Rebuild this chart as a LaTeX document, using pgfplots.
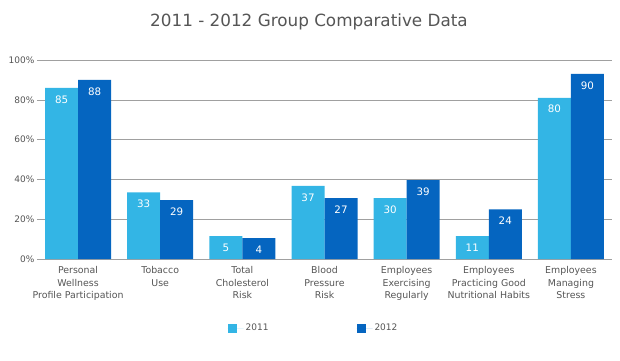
\documentclass[border=0pt]{standalone}
\usepackage{fontspec}
\setmainfont{DejaVu Sans}
\usepackage{pgfplots}
\pgfplotsset{compat=1.18}
\definecolor{cA}{HTML}{33B5E5}
\definecolor{cB}{HTML}{0565C0}
\definecolor{txt}{HTML}{555555}
\definecolor{grd}{HTML}{A0A0A0}
\begin{document}
\begin{tikzpicture}[x=1pt,y=1pt]
\path[use as bounding box] (0,0) rectangle (620,360);
\node[font=\fontsize{16.8}{20}\selectfont, text=txt] at (309,338) {2011 - 2012 Group Comparative Data};
\begin{axis}[
  at={(37pt,101pt)}, anchor=south west,
  scale only axis, width=575pt, height=199pt,
  xmin=-0.5, xmax=6.5, ymin=0, ymax=100,
  ybar, bar width=33pt,
  axis x line*=bottom, axis y line*=left,
  y axis line style={draw=none},
  ytick={0,20,...,100}, yticklabel={\pgfmathprintnumber{\tick}\%},
  yticklabel style={font=\fontsize{9}{10}\selectfont, text=txt, xshift=1pt},
  ytick style={grd, line width=0.6pt}, major tick length=3pt,
  /pgf/number format/assume math mode=true,
  ymajorgrids, major grid style={grd, line width=0.6pt},
  xtick=data, xtick style={draw=none},
  x axis line style={grd, line width=0.8pt},
  xticklabels={Personal\\Wellness\\Profile Participation, Tobacco\\Use, Total\\Cholesterol\\Risk, Blood\\Pressure\\Risk, Employees\\Exercising\\Regularly, Employees\\Practicing Good\\Nutritional Habits, Employees\\Managing\\Stress},
  xticklabel style={align=center, font=\fontsize{9.4}{12.5}\selectfont, text=txt, yshift=-1pt},
  enlarge y limits=false,
  nodes near coords, point meta=explicit symbolic,
  every node near coord/.append style={anchor=north, yshift=-4pt, text=white, font=\fontsize{10.3}{12}\selectfont},
  legend style={at={(0.5,0)}, anchor=center, xshift=-11pt, yshift=-69pt, draw=none, fill=none, legend columns=2, /tikz/every even column/.append style={column sep=86pt}, font=\fontsize{9}{10}\selectfont, text=txt},
  legend image code/.code={\fill[#1] (0pt,-4.5pt) rectangle (9pt,4.5pt); \path (0pt,0pt) -- (16pt,0pt);},
]
\addplot[fill=cA, draw=none, bar shift=-16.5pt] table[meta=l] {
x y l
0 86 85
1 33.5 33
2 11.5 5
3 36.7 37
4 30.6 30
5 11.5 11
6 81 80
};
\addplot[fill=cB, draw=none, bar shift=16.5pt] table[meta=l] {
x y l
0 90 88
1 29.6 29
2 10.5 4
3 30.6 27
4 39.7 39
5 25 24
6 93 90
};
\legend{2011,2012}
\end{axis}
\end{tikzpicture}
\end{document}
